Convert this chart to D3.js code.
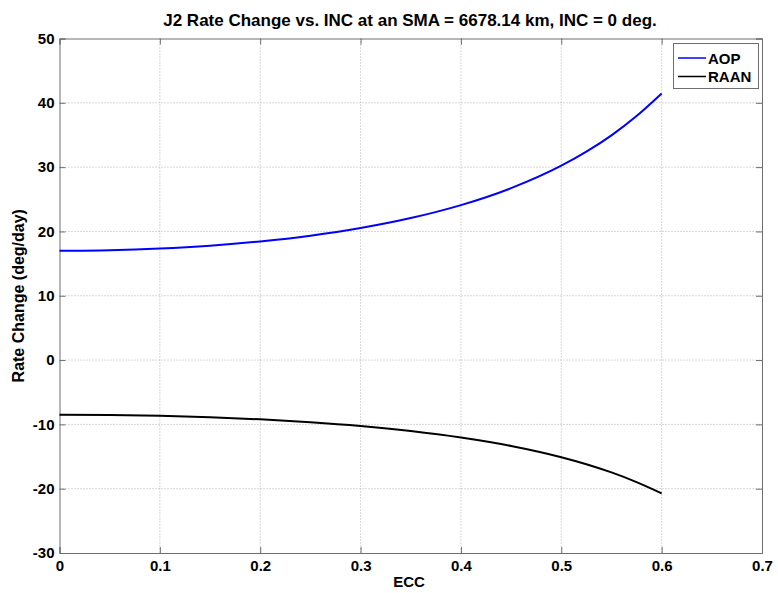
<!DOCTYPE html>
<html><head><meta charset="utf-8">
<script src="https://cdn.jsdelivr.net/npm/d3@7"></script>
<style>body{margin:0;background:#fff;} text{font-family:Arial,"Liberation Sans",Helvetica,sans-serif;}</style>
</head><body>
<script>
const ecc  = [0, 0.05, 0.1, 0.15, 0.2, 0.25, 0.3, 0.35, 0.4, 0.45, 0.5, 0.525, 0.55, 0.575, 0.6];
const aop  = [17.0, 17.09, 17.35, 17.79, 18.45, 19.34, 20.53, 22.08, 24.09, 26.73, 30.22, 32.40, 34.94, 37.94, 41.45];
const raan = [-8.5, -8.54, -8.67, -8.90, -9.22, -9.67, -10.26, -11.04, -12.05, -13.36, -15.11, -16.20, -17.47, -18.97, -20.72];
const xTicks = [0, 0.1, 0.2, 0.3, 0.4, 0.5, 0.6, 0.7];
const yTicks = [-30, -20, -10, 0, 10, 20, 30, 40, 50];
const seriesNames = ["AOP", "RAAN"];
const seriesColors = ["#0000ff", "#000000"];

const W = 778, H = 593;
const m = {l: 59.5, r: 762, t: 38.5, b: 553};
const svg = d3.select("body").append("svg").attr("width", W).attr("height", H);
const x = d3.scaleLinear().domain([0, 0.7]).range([m.l, m.r]);
const y = d3.scaleLinear().domain([-30, 50]).range([m.b, m.t]);

// grid
const g = svg.append("g");
g.selectAll(".gx").data(xTicks.slice(1, -1)).enter().append("line")
  .attr("x1", d => x(d)).attr("x2", d => x(d)).attr("y1", m.t).attr("y2", m.b)
  .attr("stroke", "#b0b0b0").attr("stroke-width", 1).attr("stroke-dasharray", "1,2");
g.selectAll(".gy").data(yTicks.slice(1, -1)).enter().append("line")
  .attr("y1", d => y(d)).attr("y2", d => y(d)).attr("x1", m.l).attr("x2", m.r)
  .attr("stroke", "#b0b0b0").attr("stroke-width", 1).attr("stroke-dasharray", "1,2");

// axes
const fmt = d => d === 0 ? "0" : String(d);
const axB = d3.axisBottom(x).tickValues(xTicks).tickSize(-6).tickPadding(7).tickFormat(fmt);
const axT = d3.axisTop(x).tickValues(xTicks).tickSize(-6).tickFormat("");
const axL = d3.axisLeft(y).tickValues(yTicks).tickSize(-6).tickPadding(5).tickFormat(fmt);
const axR = d3.axisRight(y).tickValues(yTicks).tickSize(-6).tickFormat("");
function style(sel) {
  sel.selectAll("path,line").attr("stroke", "#6e6e6e").attr("stroke-width", 1);
  sel.selectAll("text").attr("fill", "#000").attr("font-size", "15px").attr("font-weight", "bold");
  sel.select(".domain").attr("stroke", "#6e6e6e");
}
svg.append("g").attr("transform", `translate(0,${m.b})`).call(axB).call(style);
svg.append("g").attr("transform", `translate(0,${m.t})`).call(axT).call(style);
svg.append("g").attr("transform", `translate(${m.l},0)`).call(axL).call(style);
svg.append("g").attr("transform", `translate(${m.r},0)`).call(axR).call(style);

// lines
const line = d3.line().x((d, i) => x(ecc[i])).y(d => y(d)).curve(d3.curveMonotoneX);
[aop, raan].forEach((s, k) => {
  svg.append("path").datum(s).attr("d", line).attr("fill", "none")
    .attr("stroke", seriesColors[k]).attr("stroke-width", 2);
});

// title & labels
svg.append("text").attr("x", 410).attr("y", 26).attr("text-anchor", "middle")
  .attr("font-size", "17px").attr("font-weight", "bold")
  .text("J2 Rate Change vs. INC at an SMA = 6678.14 km, INC = 0 deg.");
svg.append("text").attr("x", 409).attr("y", 587).attr("text-anchor", "middle")
  .attr("font-size", "15px").attr("font-weight", "bold").text("ECC");
svg.append("text").attr("transform", `translate(24,${(m.t + m.b) / 2}) rotate(-90)`).attr("text-anchor", "middle")
  .attr("font-size", "16px").attr("font-weight", "bold").text("Rate Change (deg/day)");

// legend
const lg = svg.append("g");
lg.append("rect").attr("x", 673.5).attr("y", 43.5).attr("width", 85).attr("height", 45)
  .attr("fill", "#fff").attr("stroke", "#6e6e6e");
seriesNames.forEach((n, i) => {
  const yy = 58 + i * 18.5;
  lg.append("line").attr("x1", 678).attr("x2", 706).attr("y1", yy).attr("y2", yy)
    .attr("stroke", seriesColors[i]).attr("stroke-width", 1.5);
  lg.append("text").attr("x", 708).attr("y", yy + 5.5).attr("font-size", "15px").attr("font-weight", "bold").text(n);
});
</script>
</body></html>
